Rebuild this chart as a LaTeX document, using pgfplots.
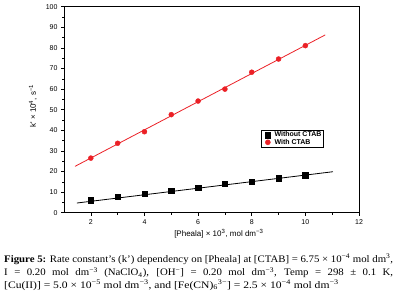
\documentclass[border=0pt]{standalone}
\usepackage{pgfplots}
\pgfplotsset{compat=1.18}
\usepackage{fontspec}
\setmainfont{Liberation Serif}
\newfontfamily\capfont[FakeStretch=1.08]{Liberation Serif}
\newfontfamily\capfontw[FakeStretch=1.16]{Liberation Serif}
\newfontfamily\arial{Liberation Sans}
\definecolor{redpt}{RGB}{235,32,38}
\begin{document}
\begin{tikzpicture}
\useasboundingbox (0pt,0pt) rectangle (396pt,301pt);
\begin{axis}[
  at={(64pt,88.3pt)}, anchor=south west, scale only axis,
  width=295pt, height=206pt,
  xmin=1, xmax=12, ymin=0, ymax=100,
  xtick={2,4,...,12}, ytick={0,10,...,100},
  minor x tick num=1, minor y tick num=1,
  tick pos=left, tick align=outside,
  major tick length=3pt, minor tick length=1.8pt,
  axis line style={line width=0.7pt},
  every tick/.style={black, line width=0.6pt},
  ticklabel style={font=\arial\fontsize{7}{8}\selectfont},
  /pgf/number format/assume math mode=true,
  xlabel={[Pheala] × 10\textsuperscript{3}, mol dm\textsuperscript{−3}},
  ylabel={k' × 10\textsuperscript{4}, s\textsuperscript{−1}},
  label style={font=\arial\fontsize{8}{9}\selectfont},
  xlabel style={at={(axis description cs:0.525,-0.102)}, anchor=center},
  ylabel style={at={(axis description cs:-0.105,0.518)}, anchor=center},
  legend style={at={(axis description cs:0.668,0.403)}, anchor=north west,
    font=\arial\bfseries\fontsize{7}{7}\selectfont, draw=black, line width=0.5pt,
    inner sep=0.6pt, row sep=-2pt, nodes={inner sep=1.3pt}},
  legend cell align=left,
  legend image code/.code={\path (-0.2cm,0cm) (0.18cm,0cm); \draw[#1] plot coordinates {(0cm,0cm)};},
]
\addplot[only marks, mark=square*, mark size=2.7pt, black] coordinates {
  (2,6.0) (3,7.8) (4,9.2) (5,10.7) (6,12.1) (7,14.1) (8,15.0) (9,16.7) (10,18.3)};
\addlegendentry{Without CTAB}
\addplot[only marks, mark=*, mark size=2.5pt, color=redpt] coordinates {
  (2,26.5) (3,33.7) (4,39.3) (5,47.6) (6,54.2) (7,60.0) (8,68.2) (9,74.6) (10,81.1)};
\addlegendentry{With CTAB}
\addplot[forget plot, black, line width=0.8pt, no marks] coordinates {(1.48,4.7) (11.03,19.9)};
\addplot[forget plot, redpt, line width=0.8pt, no marks] coordinates {(1.41,22.5) (10.74,86.3)};
\end{axis}
\node[anchor=base west, inner sep=0pt] at (4pt,39pt) {\makebox[389pt][s]{\capfont\fontsize{10}{11}\selectfont\textbf{Figure 5:} Rate constant’s (k’) dependency on [Pheala] at [CTAB] = 6.75 × 10\textsuperscript{−4} mol dm\textsuperscript{3},}};
\node[anchor=base west, inner sep=0pt] at (4pt,25.3pt) {\makebox[389pt][s]{\capfont\fontsize{10}{11}\selectfont I = 0.20 mol dm\textsuperscript{−3} (NaClO\textsubscript{4}), [OH\textsuperscript{−}] = 0.20 mol dm\textsuperscript{−3}, Temp = 298 ± 0.1 K,}};
\node[anchor=base west, inner sep=0pt] at (4pt,12.7pt) {\capfontw\fontsize{10}{11}\selectfont [Cu(II)] = 5.0 × 10\textsuperscript{−5} mol dm\textsuperscript{−3}, and [Fe(CN)\textsubscript{6}\textsuperscript{3−}] = 2.5 × 10\textsuperscript{−4} mol dm\textsuperscript{−3}};
\end{tikzpicture}
\end{document}
